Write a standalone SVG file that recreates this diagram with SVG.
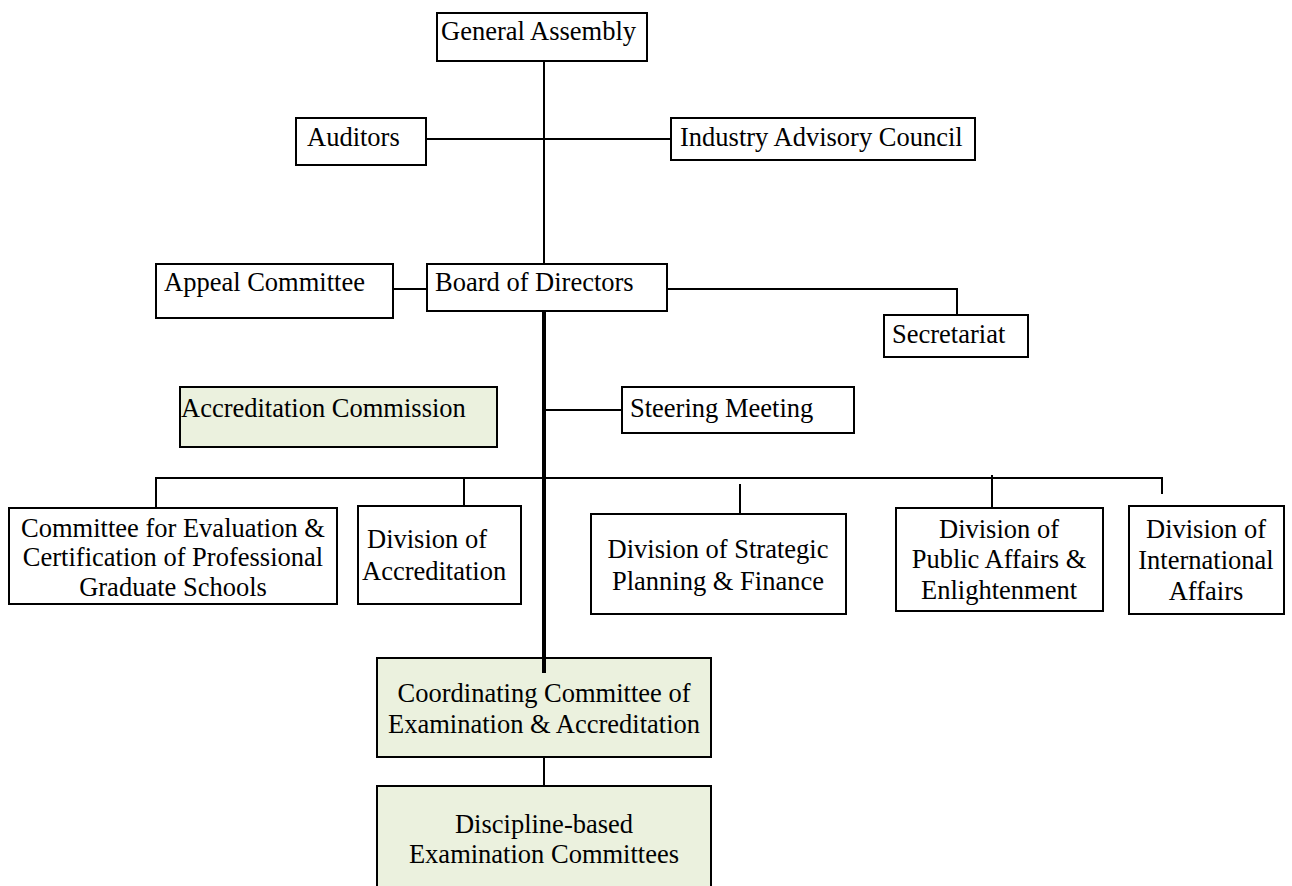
<svg xmlns="http://www.w3.org/2000/svg" width="1292" height="886" viewBox="0 0 1292 886">
  <style>
    .box { fill: #ffffff; stroke: #000000; stroke-width: 2; }
    .green { fill: #EBF1DE; stroke: #000000; stroke-width: 2; }
    .t { font-family: "Liberation Serif", "Times New Roman", serif; font-size: 26.5px; fill: #000000; }
    .c { text-anchor: middle; }
    .ln { fill: none; stroke: #000000; stroke-width: 2; }
    .thick { fill: none; stroke: #000000; stroke-width: 4; }
  </style>
  <rect width="1292" height="886" fill="#ffffff"/>

  <!-- connectors -->
  <g id="connectors">
    <line class="ln" x1="544" y1="61" x2="544" y2="264"/>
    <line class="ln" x1="426" y1="139" x2="671" y2="139"/>
    <line class="ln" x1="393" y1="289" x2="427" y2="289"/>
    <polyline class="ln" points="667,289 957,289 957,315"/>
    <line class="thick" x1="544" y1="311" x2="544" y2="673"/>
    <line class="ln" x1="544" y1="410" x2="622" y2="410"/>
    <polyline class="ln" points="156,508 156,478 1162,478 1162,494"/>
    <line class="ln" x1="464" y1="478" x2="464" y2="506"/>
    <line class="ln" x1="740" y1="484" x2="740" y2="514"/>
    <line class="ln" x1="992" y1="475" x2="992" y2="508"/>
    <line class="ln" x1="544" y1="757" x2="544" y2="786"/>
  </g>

  <g id="general-assembly">
    <rect class="box" x="437" y="13" width="210" height="48"/>
    <text class="t" x="441" y="40">General Assembly</text>
  </g>

  <g id="auditors">
    <rect class="box" x="296" y="118" width="130" height="47"/>
    <text class="t" x="307" y="146">Auditors</text>
  </g>

  <g id="industry-advisory-council">
    <rect class="box" x="671" y="118" width="304" height="42"/>
    <text class="t" x="680" y="146">Industry Advisory Council</text>
  </g>

  <g id="appeal-committee">
    <rect class="box" x="156" y="264" width="237" height="54"/>
    <text class="t" x="164" y="291">Appeal Committee</text>
  </g>

  <g id="board-of-directors">
    <rect class="box" x="427" y="264" width="240" height="47"/>
    <text class="t" x="435" y="291">Board of Directors</text>
  </g>

  <g id="secretariat">
    <rect class="box" x="884" y="315" width="144" height="42"/>
    <text class="t" x="892" y="343">Secretariat</text>
  </g>

  <g id="accreditation-commission">
    <rect class="green" x="180" y="387" width="317" height="60"/>
    <text class="t" x="181" y="417">Accreditation Commission</text>
  </g>

  <g id="steering-meeting">
    <rect class="box" x="622" y="387" width="232" height="46"/>
    <text class="t" x="630" y="417">Steering Meeting</text>
  </g>

  <g id="committee-evaluation">
    <rect class="box" x="9" y="508" width="328" height="96"/>
    <text class="t c" x="173" y="537">Committee for Evaluation &amp;</text>
    <text class="t c" x="173" y="566">Certification of Professional</text>
    <text class="t c" x="173" y="596">Graduate Schools</text>
  </g>

  <g id="division-accreditation">
    <rect class="box" x="358" y="506" width="163" height="98"/>
    <text class="t" x="367" y="548">Division of</text>
    <text class="t" x="362" y="580">Accreditation</text>
  </g>

  <g id="division-strategic">
    <rect class="box" x="591" y="514" width="255" height="100"/>
    <text class="t c" x="718" y="558">Division of Strategic</text>
    <text class="t c" x="718" y="590">Planning &amp; Finance</text>
  </g>

  <g id="division-public-affairs">
    <rect class="box" x="896" y="508" width="207" height="103"/>
    <text class="t c" x="999" y="538">Division of</text>
    <text class="t c" x="999" y="568">Public Affairs &amp;</text>
    <text class="t c" x="999" y="599">Enlightenment</text>
  </g>

  <g id="division-international">
    <rect class="box" x="1129" y="506" width="155" height="108"/>
    <text class="t c" x="1206" y="538">Division of</text>
    <text class="t c" x="1206" y="569">International</text>
    <text class="t c" x="1206" y="600">Affairs</text>
  </g>

  <g id="coordinating-committee">
    <rect class="green" x="377" y="658" width="334" height="99"/>
    <text class="t c" x="544" y="702">Coordinating Committee of</text>
    <text class="t c" x="544" y="733">Examination &amp; Accreditation</text>
  </g>
  <!-- thick trunk overlaps into the coordinating box top -->
  <line class="thick" x1="544" y1="657" x2="544" y2="673"/>

  <g id="discipline-committees">
    <rect class="green" x="377" y="786" width="334" height="120"/>
    <text class="t c" x="544" y="833">Discipline-based</text>
    <text class="t c" x="544" y="863">Examination Committees</text>
  </g>
</svg>
